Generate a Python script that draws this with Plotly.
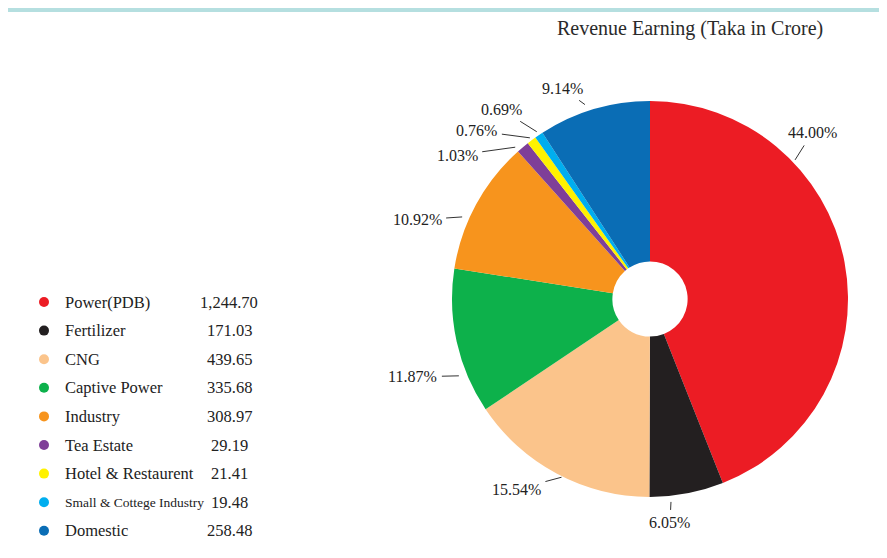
import math
import plotly.graph_objects as go

# ---- data ----
categories = ["Power(PDB)", "Fertilizer", "CNG", "Captive Power", "Industry",
              "Tea Estate", "Hotel & Restaurent", "Small & Cottege Industry", "Domestic"]
revenue = [1244.70, 171.03, 439.65, 335.68, 308.97, 29.19, 21.41, 19.48, 258.48]
value_labels = ["1,244.70", "171.03", "439.65", "335.68", "308.97", "29.19", "21.41", "19.48", "258.48"]
title_text = "Revenue Earning (Taka in Crore)"

# ---- styles ----
colors = ["#ec1c24", "#231f20", "#fbc48b", "#0db14b", "#f7941d",
          "#7f3f98", "#fff200", "#00aeef", "#0a6db5"]
W, H = 887, 558
OFF = 8                             # page body margin offset
CX, CY, R = 650, 299, 198          # pie centre / radius in page pixels
font_fam = "Liberation Serif, Times New Roman, serif"
txt_col = "#222222"

# leader-line tip (angle clockwise from top, radius px) and text offset (px)
label_tip = [(46.2, 201), (174.1, 204), (206.4, 199), (248.1, 206), (293.6, 205),
             (318.4, 203), (323.3, 201), (325.9, 202), (341.5, 205)]
label_off = [(17, -27), (-1, 21), (-45, 12), (-46, 1), (-45, 3),
             (-58, 8), (-53, -7), (-35, -22), (-22, -16)]

def px(x):
    return (x - OFF) / W

def py(y):
    return 1 - (y - OFF) / H

fig = go.Figure()
fig.add_trace(go.Pie(
    labels=categories, values=revenue, sort=False, direction="clockwise",
    rotation=0, hole=0.19, textinfo="none", hoverinfo="label+value+percent",
    marker=dict(colors=colors, line=dict(width=0)),
    domain=dict(x=[px(CX - R), px(CX + R)], y=[py(CY + R), py(CY - R)]),
    showlegend=False,
))

total = sum(revenue)
annotations = []
for i, v in enumerate(revenue):
    ang, rr = label_tip[i]
    a = math.radians(ang)
    tx = CX + rr * math.sin(a)
    ty = CY - rr * math.cos(a)
    annotations.append(dict(
        x=px(tx), y=py(ty), xref="paper", yref="paper",
        text=f"{100 * v / total:.2f}%", showarrow=True, arrowhead=0,
        arrowwidth=1, arrowcolor="#333333", ax=label_off[i][0], ay=label_off[i][1],
        standoff=0, startstandoff=3,
        font=dict(family=font_fam, size=16, color=txt_col),
    ))

# title
annotations.append(dict(x=px(690), y=py(29), xref="paper", yref="paper",
                        text=title_text, showarrow=False, xanchor="center", yanchor="middle",
                        font=dict(family=font_fam, size=20, color="#2a2a2a")))

shapes = [
    dict(type="rect", xref="paper", yref="paper", x0=0, x1=1, y0=1 - 4 / H, y1=1,
         fillcolor="#b5dfe0", line=dict(width=0), layer="above"),
]

# legend rows
row0, row_h = 302, 28.6
for i, name in enumerate(categories):
    y = row0 + i * row_h
    shapes.append(dict(type="circle", xref="paper", yref="paper",
                       x0=px(39), x1=px(49), y0=py(y + 5), y1=py(y - 5),
                       fillcolor=colors[i], line=dict(width=0)))
    size = 13.5 if len(name) > 20 else 16.5
    annotations.append(dict(x=px(63), y=py(y), xref="paper", yref="paper", text=name,
                            showarrow=False, xanchor="left", yanchor="middle",
                            font=dict(family=font_fam, size=size, color=txt_col)))
    annotations.append(dict(x=px(229), y=py(y), xref="paper", yref="paper", text=value_labels[i],
                            showarrow=False, xanchor="center", yanchor="middle",
                            font=dict(family=font_fam, size=16.5, color=txt_col)))

fig.update_layout(
    width=W, height=H, margin=dict(l=0, r=0, t=0, b=0),
    paper_bgcolor="white", plot_bgcolor="white",
    annotations=annotations, shapes=shapes,
)
fig.write_html("out.html")
